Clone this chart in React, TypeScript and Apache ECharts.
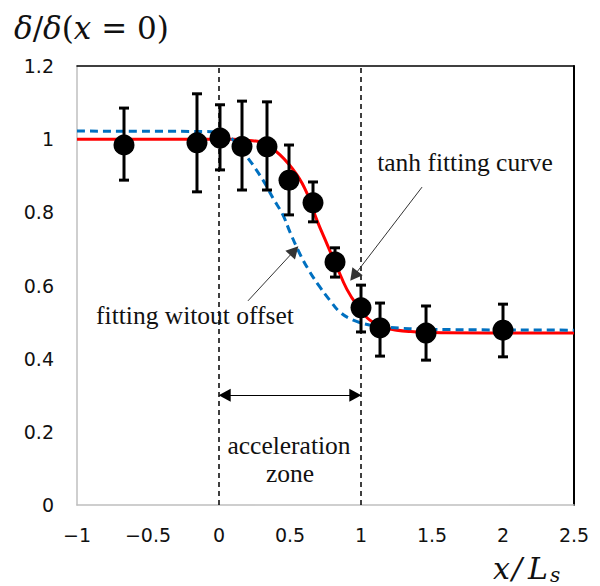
import React, { useEffect, useRef } from "react";
import * as echarts from "echarts";

// Measured points with error bars
const pointX = [-0.669, -0.155, 0.007, 0.162, 0.338, 0.493, 0.662, 0.817, 1.0, 1.134, 1.458, 2.0];
const pointY = [0.984, 0.99, 1.003, 0.98, 0.979, 0.888, 0.826, 0.664, 0.539, 0.484, 0.47, 0.478];
const errHigh = [1.085, 1.124, 1.094, 1.104, 1.102, 0.984, 0.883, 0.703, 0.601, 0.552, 0.544, 0.549];
const errLow = [0.888, 0.856, 0.916, 0.861, 0.861, 0.793, 0.774, 0.623, 0.473, 0.407, 0.396, 0.405];

// tanh fitting curve (red)
const redX = [-1, 0, 0.1, 0.2, 0.31, 0.43, 0.55, 0.62, 0.69, 0.76, 0.83, 0.9, 0.97, 1.06, 1.18, 1.35, 1.6, 2.5];
const redY = [1.0, 1.0, 1.0, 0.997, 0.99, 0.957, 0.902, 0.852, 0.778, 0.714, 0.651, 0.59, 0.547, 0.506, 0.484, 0.474, 0.471, 0.47];

// fitting without offset (blue dashed)
const blueX = [-1, -0.1, 0, 0.08, 0.2, 0.31, 0.38, 0.45, 0.5, 0.57, 0.64, 0.71, 0.78, 0.85, 0.94, 1.06, 1.18, 1.5, 2.5];
const blueY = [1.022, 1.021, 1.018, 1.005, 0.95, 0.888, 0.839, 0.793, 0.746, 0.686, 0.637, 0.596, 0.56, 0.528, 0.506, 0.492, 0.486, 0.48, 0.478];

const xTicks = { min: -1, max: 2.5, interval: 0.5 };
const yTicks = { min: 0, max: 1.2, interval: 0.2 };

// annotation arrows (data coordinates; arrowhead centres)
const zoneArrow = [[0.04, 0.3], [0.96, 0.3]];
const tanhArrow = [[1.43, 0.869], [0.95, 0.626]];
const offsetArrow = [[0.204, 0.558], [0.53, 0.695]];

const SERIF = '"Liberation Serif", "Times New Roman", serif';
const MATH = '"DejaVu Serif", "Liberation Serif", serif';
const SANS = '"DejaVu Sans", Arial, sans-serif';

export default function App() {
  const ref = useRef<HTMLDivElement>(null);
  useEffect(() => {
    if (!ref.current) return;
    const chart = echarts.init(ref.current, null, { renderer: "svg" });
    const fmtX = (v: number) => (v < 0 ? "\u2212" + Math.abs(v) : String(v));
    const fmtY = (v: number) => (Math.abs(v - Math.round(v)) < 1e-9 ? String(Math.round(v)) : v.toFixed(1));
    const arrowStyle = { color: "#333", width: 1, type: "solid" as const };
    const zoneStyle = { color: "#000", width: 1.2, type: "solid" as const };
    const dashStyle = { color: "#000", width: 1.5, type: [5, 4] as any };
    const head = { symbol: "triangle", symbolSize: [13, 12] };
    const option: any = {
      animation: false,
      grid: { left: 77, right: 26, top: 66, bottom: 81 },
      xAxis: [
        {
          type: "value", ...xTicks, position: "bottom",
          axisLine: { show: true, onZero: false, lineStyle: { color: "#bfbfbf", width: 1.5 } },
          axisTick: { show: false }, splitLine: { show: false },
          axisLabel: { formatter: fmtX, fontFamily: SANS, fontSize: 19, color: "#111", margin: 20 },
        },
        {
          type: "value", ...xTicks, position: "top",
          axisLine: { show: true, onZero: false, lineStyle: { color: "#000", width: 1.5 } },
          axisTick: { show: false }, splitLine: { show: false }, axisLabel: { show: false },
        },
      ],
      yAxis: [
        {
          type: "value", ...yTicks, position: "left",
          axisLine: { show: true, onZero: false, lineStyle: { color: "#bfbfbf", width: 1.5 } },
          axisTick: { show: false }, splitLine: { show: false },
          axisLabel: { formatter: fmtY, fontFamily: SANS, fontSize: 19, color: "#111", margin: 23 },
        },
        {
          type: "value", ...yTicks, position: "right",
          axisLine: { show: true, onZero: false, lineStyle: { color: "#000", width: 2 } },
          axisTick: { show: false }, splitLine: { show: false }, axisLabel: { show: false },
        },
      ],
      series: [
        {
          type: "line", name: "tanh", data: redX.map((x, i) => [x, redY[i]]),
          smooth: 0.4, showSymbol: false, symbol: "none",
          lineStyle: { color: "#ff0000", width: 3 }, z: 2,
          markLine: {
            silent: true, symbol: ["none", "none"], label: { show: false },
            emphasis: { disabled: true },
            data: [
              { xAxis: 0, lineStyle: dashStyle },
              { xAxis: 1, lineStyle: dashStyle },
              [
                { coord: zoneArrow[0], ...head, lineStyle: zoneStyle },
                { coord: zoneArrow[1], ...head, lineStyle: zoneStyle },
              ],
              [
                { coord: tanhArrow[0], symbol: "none", lineStyle: arrowStyle },
                { coord: tanhArrow[1], ...head, lineStyle: arrowStyle },
              ],
              [
                { coord: offsetArrow[0], symbol: "none", lineStyle: arrowStyle },
                { coord: offsetArrow[1], ...head, lineStyle: arrowStyle },
              ],
            ],
            itemStyle: { color: "#000" },
          },
        },
        {
          type: "line", name: "no offset", data: blueX.map((x, i) => [x, blueY[i]]),
          smooth: 0.4, showSymbol: false, symbol: "none",
          lineStyle: { color: "#0070c0", width: 3, type: [8, 5] }, z: 3,
        },
        {
          type: "custom", name: "err",
          data: pointX.map((x, i) => [x, errLow[i], errHigh[i]]),
          encode: { x: 0, y: [1, 2] },
          z: 4,
          renderItem: (params: any, api: any) => {
            const x = api.value(0);
            const lo = api.coord([x, api.value(1)]);
            const hi = api.coord([x, api.value(2)]);
            const cap = 5;
            const st = { stroke: "#000", lineWidth: 3 };
            return {
              type: "group",
              children: [
                { type: "line", shape: { x1: hi[0], y1: hi[1], x2: lo[0], y2: lo[1] }, style: st },
                { type: "line", shape: { x1: hi[0] - cap, y1: hi[1], x2: hi[0] + cap, y2: hi[1] }, style: st },
                { type: "line", shape: { x1: lo[0] - cap, y1: lo[1], x2: lo[0] + cap, y2: lo[1] }, style: st },
              ],
            };
          },
        },
        {
          type: "scatter", name: "data", data: pointX.map((x, i) => [x, pointY[i]]),
          symbol: "circle", symbolSize: 21, itemStyle: { color: "#000", opacity: 1 }, z: 5,
        },
      ],
    };
    chart.setOption(option);
    const px = (x: number, y: number) => chart.convertToPixel({ gridIndex: 0 }, [x, y]) as number[];
    const t1 = px(1.732, 0.935);
    const t2 = px(-0.169, 0.517);
    const t3 = px(0.493, 0.164);
    const t4 = px(0.5, 0.085);
    const annFont = { fontFamily: SERIF, fontSize: 25.5, fill: "#111", align: "center", verticalAlign: "middle" };
    const mathIt = { fontFamily: MATH, fontSize: 30, fontStyle: "italic", fill: "#111", verticalAlign: "bottom" };
    chart.setOption({
      graphic: [
        { type: "text", x: t1[0], y: t1[1], style: { ...annFont, text: "tanh fitting curve" }, z: 10 },
        { type: "text", x: t2[0], y: t2[1], style: { ...annFont, text: "fitting witout offset" }, z: 10 },
        { type: "text", x: t3[0], y: t3[1], style: { ...annFont, text: "acceleration" }, z: 10 },
        { type: "text", x: t4[0], y: t4[1], style: { ...annFont, text: "zone" }, z: 10 },
        {
          type: "text", x: 14, y: 28,
          style: {
            text: "{i|δ}/{i|δ}({i|x} = 0)",
            fontFamily: MATH, fontSize: 31, fill: "#111", verticalAlign: "middle",
            rich: { i: { fontFamily: MATH, fontSize: 31, fontStyle: "italic", fill: "#111" } },
          },
        },
        { type: "text", x: 493, y: 583, style: { ...mathIt, text: "x" } },
        { type: "text", x: 512, y: 583, style: { ...mathIt, text: "/" } },
        { type: "text", x: 528, y: 583, style: { ...mathIt, text: "L" } },
        { type: "text", x: 550, y: 585, style: { ...mathIt, fontSize: 20, text: "s" } },
      ],
    });
    return () => chart.dispose();
  }, []);
  return (
    <div
      ref={ref}
      style={{ position: "absolute", left: 0, top: 0, width: 600, height: 586, background: "#fff" }}
    />
  );
}
